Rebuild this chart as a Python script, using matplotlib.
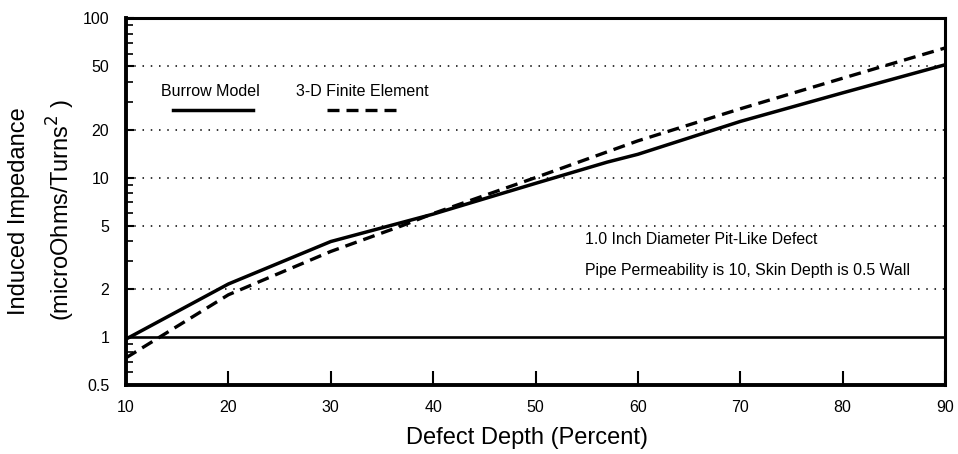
import matplotlib
matplotlib.use("Agg")
import matplotlib.pyplot as plt
from matplotlib.ticker import FixedLocator, FixedFormatter, LogLocator, NullFormatter

plt.rcParams["font.family"] = ["Liberation Sans", "DejaVu Sans"]

# values
burrow_x = [10, 20, 30, 40, 50, 57, 60, 70, 80, 90]
burrow_y = [0.97, 2.15, 3.97, 5.9, 9.2, 12.5, 14.0, 22.5, 34.0, 51.0]

fe_x = [10, 20, 30, 37, 40, 50, 60, 70, 80, 90]
fe_y = [0.74, 1.84, 3.44, 5.0, 5.95, 10.0, 17.0, 27.0, 42.0, 65.0]

grid_levels = [2, 5, 10, 20, 50]
y_ticks = [0.5, 1, 2, 5, 10, 20, 50, 100]
y_labels = ["0.5", "1", "2", "5", "10", "20", "50", "100"]
x_ticks = [10, 20, 30, 40, 50, 60, 70, 80, 90]

W, H = 958, 454


def fx(px):
    return px / W


def fy(py):
    return 1 - py / H


fig = plt.figure(figsize=(W / 100, H / 100), dpi=100)
ax = fig.add_axes([0.1315, 0.152, 0.855, 0.808])

ax.set_yscale("log")
ax.set_xlim(10, 90)
ax.set_ylim(0.5, 100)

for lv in grid_levels:
    ax.axhline(lv, color="black", lw=1.1, linestyle=(0, (1, 4.4)), zorder=1)
ax.axhline(1, color="black", lw=1.9, zorder=2)

dash = (0, (3.6, 2.1))
ax.plot(burrow_x, burrow_y, color="black", lw=2.5, solid_joinstyle="round", zorder=3)
ax.plot(fe_x, fe_y, color="black", lw=2.4, linestyle=dash, zorder=3)

# hand-drawn style legend: label above a short line sample
fig.text(fx(210), fy(92), "Burrow Model", fontsize=11.5, ha="center", va="center")
fig.text(fx(362), fy(92), "3-D Finite Element", fontsize=11.5, ha="center", va="center")
fig.add_artist(plt.Line2D([fx(173), fx(253)], [fy(110)] * 2, color="black", lw=2.5))
fig.add_artist(plt.Line2D([fx(327), fx(402)], [fy(110)] * 2, color="black", lw=2.4,
                          linestyle=dash))

fig.text(fx(585), fy(240), "1.0 Inch Diameter Pit-Like Defect",
         fontsize=11.4, ha="left", va="center")
fig.text(fx(585), fy(270), "Pipe Permeability is 10, Skin Depth is 0.5 Wall",
         fontsize=11.4, ha="left", va="center")

ax.yaxis.set_major_locator(FixedLocator(y_ticks))
ax.yaxis.set_major_formatter(FixedFormatter(y_labels))
ax.yaxis.set_minor_locator(LogLocator(base=10, subs=range(2, 10)))
ax.yaxis.set_minor_formatter(NullFormatter())
ax.set_xticks(x_ticks)
ax.set_xticklabels([str(v) for v in x_ticks])

ax.tick_params(axis="y", which="major", direction="in", length=6, width=1.5,
               labelsize=11.5, pad=12)
ax.tick_params(axis="y", which="minor", direction="in", length=5, width=1.2)
ax.tick_params(axis="x", which="major", direction="in", length=10, width=1.5,
               labelsize=11.5, pad=11)
for s in ax.spines.values():
    s.set_linewidth(2.2)
ax.spines["left"].set_linewidth(2.8)
ax.spines["bottom"].set_linewidth(2.8)

fig.text(fx(527), fy(438), "Defect Depth (Percent)", fontsize=17,
         ha="center", va="center")
fig.text(fx(19), fy(211), "Induced Impedance", fontsize=17,
         rotation=90, ha="center", va="center")
fig.text(fx(61), fy(210), r"(microOhms/Turns$^{2}$ )", fontsize=17,
         rotation=90, ha="center", va="center")

fig.savefig("out.png", dpi=100)
